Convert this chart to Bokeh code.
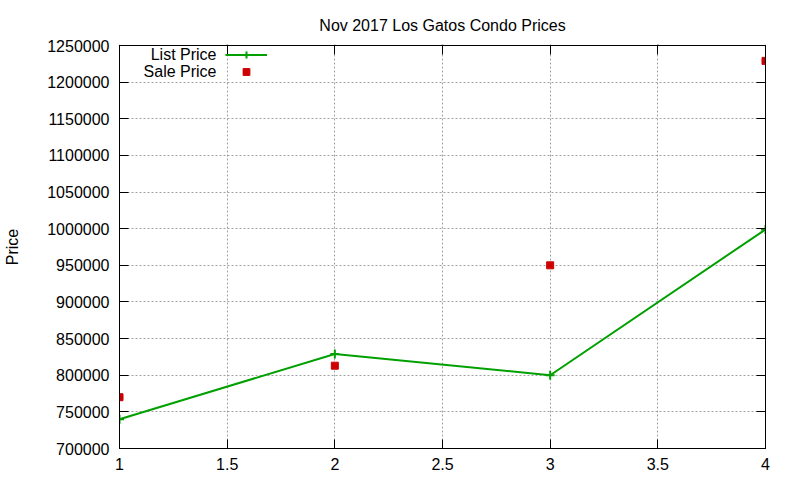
from bokeh.plotting import figure
from bokeh.embed import file_html
from bokeh.resources import INLINE
from bokeh.models import (Range1d, LinearAxis, FixedTicker, Legend, LegendItem, Label)

# data
sale_idx = [1, 2, 3, 4]
list_price = [740000, 829000, 800000, 999000]
sale_price = [770000, 813000, 950000, 1229000]
series_names = ["List Price", "Sale Price"]
x_ticks = [1, 1.5, 2, 2.5, 3, 3.5, 4]
x_tick_labels = ["1", "1.5", "2", "2.5", "3", "3.5", "4"]
y_ticks = [700000, 750000, 800000, 850000, 900000, 950000, 1000000,
           1050000, 1100000, 1150000, 1200000, 1250000]

FONT = "Liberation Sans"
GREEN = "#00a000"
RED = "#cc0000"

p = figure(width=784, height=472, output_backend="svg", toolbar_location=None,
           title="Nov 2017 Los Gatos Condo Prices",
           x_range=Range1d(1, 4), y_range=Range1d(700000, 1250000),
           min_border_left=119, min_border_right=19,
           min_border_top=45, min_border_bottom=23)

p.title.align = "center"
p.title.vertical_align = "top"
p.title.text_font = FONT
p.title.text_font_size = "16px"
p.title.text_font_style = "normal"
p.title.text_color = "black"

p.outline_line_color = "black"
p.outline_line_width = 1

xt = FixedTicker(ticks=x_ticks)
yt = FixedTicker(ticks=y_ticks)

# mirror axes (ticks only) on top and right like gnuplot's border
top_ax = LinearAxis(ticker=xt)
right_ax = LinearAxis(ticker=yt)
p.add_layout(top_ax, "above")
p.add_layout(right_ax, "right")

for ax in p.axis:
    ax.axis_line_color = "black"
    ax.major_tick_line_color = "black"
    ax.major_tick_in = 9
    ax.major_tick_out = 0
    ax.minor_tick_line_color = None
    ax.major_label_text_font = FONT
    ax.major_label_text_font_size = "16px"
    ax.major_label_text_color = "black"

top_ax.major_label_overrides = {t: " " for t in x_ticks}
right_ax.major_label_overrides = {t: " " for t in y_ticks}
for ax in [top_ax, right_ax]:
    ax.major_label_text_font_size = "1px"
    ax.major_label_standoff = 0

bottom_ax = p.xaxis[0]
left_ax = p.yaxis[0]
bottom_ax.ticker = xt
bottom_ax.major_label_overrides = {t: s for t, s in zip(x_ticks, x_tick_labels)}
bottom_ax.major_label_standoff = 1
left_ax.ticker = yt
left_ax.major_label_overrides = {t: str(t) for t in y_ticks}
left_ax.major_label_standoff = 10
left_ax.axis_label = "Price"
left_ax.axis_label_text_font = FONT
left_ax.axis_label_text_font_size = "16px"
left_ax.axis_label_text_font_style = "normal"
left_ax.axis_label_text_color = "black"
left_ax.axis_label_standoff = 23

for g in [p.xgrid[0], p.ygrid[0]]:
    g.grid_line_color = "#a0a0a0"
    g.grid_line_dash = "2 2"
    g.grid_line_width = 1
p.xgrid[0].ticker = xt
p.ygrid[0].ticker = yt

l1 = p.line(sale_idx, list_price, line_color=GREEN, line_width=2)
m1 = p.scatter(sale_idx, list_price, marker="cross", size=9, line_color=GREEN, line_width=2)
m2 = p.scatter(sale_idx, sale_price, marker="square", size=7, fill_color=RED, line_color=RED)

# gnuplot-style key: text on the left, sample on the right
legend = Legend(items=[LegendItem(label=" ", renderers=[l1, m1]),
                       LegendItem(label=" ", renderers=[m2])],
                location=(106, 368), glyph_width=42, glyph_height=17,
                label_height=17, label_width=0, label_standoff=0,
                label_text_font_size="13px",
                spacing=0, padding=0, margin=0,
                border_line_color=None, background_fill_alpha=0)
p.add_layout(legend)

for name, yy in zip(series_names, [394, 377]):
    p.add_layout(Label(x=97, y=yy, x_units="screen", y_units="screen", text=name,
                       text_align="right", text_baseline="middle",
                       text_font=FONT, text_font_size="16px", text_color="black"))

open("out.html", "w").write(file_html(p, INLINE))
